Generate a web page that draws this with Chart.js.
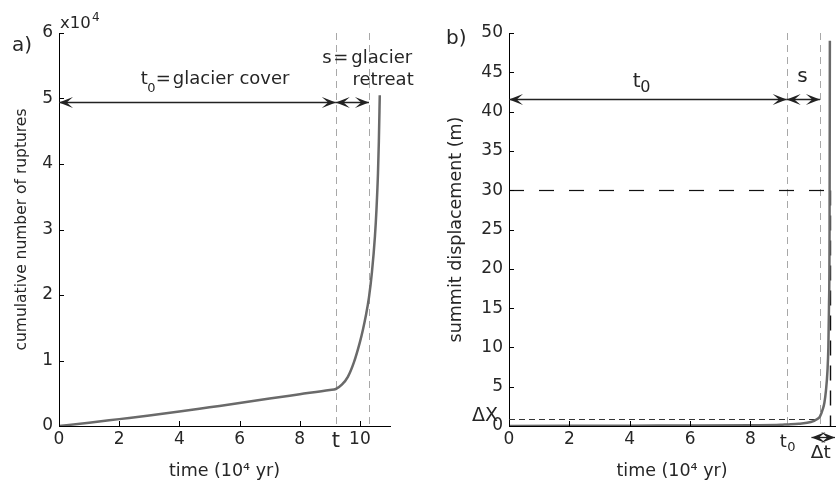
<!DOCTYPE html>
<html><head><meta charset="utf-8">
<script src="https://cdn.jsdelivr.net/npm/chart.js@4.4.0/dist/chart.umd.min.js"></script>
<style>
html,body{margin:0;padding:0;background:#fff;overflow:hidden}
#wrap{position:relative;width:837px;height:485px;background:#fff}
#ca{position:absolute;left:0;top:0}
#cb{position:absolute;left:418px;top:0}
</style></head><body>
<div id="wrap"><canvas id="ca" width="418" height="485"></canvas><canvas id="cb" width="419" height="485"></canvas></div>
<script>
// ---- Panel a) data ----
const timeA = [0, 1, 2, 3, 4, 5, 6, 7, 8, 9, 9.2, 9.4, 9.6, 9.8, 10.0, 10.1, 10.2, 10.3, 10.4, 10.5, 10.55, 10.6, 10.63, 10.66];
const rupturesA = [0, 500, 1050, 1600, 2200, 2850, 3500, 4200, 4850, 5500, 5650, 6300, 7500, 9700, 12800, 14700, 16900, 19600, 23500, 29000, 33000, 38500, 43500, 50500];
const xTicksA = [0, 2, 4, 6, 8, 9.2, 10];
const xTickLabelsA = ['0', '2', '4', '6', '8', 't', '10'];
const yTicksA = [0, 1, 2, 3, 4, 5, 6]; // x 10^4
const markersA = [9.2, 10.3]; // t0 end, s end

// ---- Panel b) data ----
const timeB = [0, 2, 4, 6, 8, 9, 9.2, 9.6, 10.0, 10.2, 10.3, 10.4, 10.45, 10.5, 10.55, 10.58, 10.6, 10.62, 10.63];
const displacementB = [0, 0.02, 0.04, 0.06, 0.1, 0.15, 0.2, 0.3, 0.5, 0.85, 1.2, 2.2, 3.0, 4.5, 7, 10, 15, 25, 49];
const xTicksB = [0, 2, 4, 6, 8, 9.2];
const xTickLabelsB = ['0', '2', '4', '6', '8', ''];
const yTicksB = [0, 5, 10, 15, 20, 25, 30, 35, 40, 45, 50];
const markersB = [9.2, 10.3];
const deltaX = 0.85, levelB = 30, endB = 10.63;

const FONT = "'DejaVu Sans', sans-serif";
const TXT = '#262626';
const CURVE = '#6a6a6a';

function txt(ctx, s, x, y, size, align) {
  ctx.font = size + 'px ' + FONT; ctx.textAlign = align || 'left';
  ctx.textBaseline = 'alphabetic'; ctx.fillStyle = TXT; ctx.fillText(s, x, y);
}
function head(ctx, x, y, dir) {
  const L = 14, W = 5.5;
  ctx.beginPath(); ctx.moveTo(x, y); ctx.lineTo(x - dir * L, y - W);
  ctx.lineTo(x - dir * L * 0.55, y); ctx.lineTo(x - dir * L, y + W); ctx.closePath(); ctx.fill();
}
function arrow(ctx, x1, x2, y) {
  ctx.save(); ctx.strokeStyle = '#222'; ctx.fillStyle = '#222'; ctx.lineWidth = 1.3;
  ctx.beginPath(); ctx.moveTo(x1, y); ctx.lineTo(x2, y); ctx.stroke();
  head(ctx, x1, y, -1); head(ctx, x2, y, 1); ctx.restore();
}
function line(ctx, x1, y1, x2, y2, color, dash, w) {
  ctx.save(); ctx.strokeStyle = color; ctx.lineWidth = w || 1; ctx.setLineDash(dash || []);
  ctx.beginPath(); ctx.moveTo(x1, y1); ctx.lineTo(x2, y2); ctx.stroke(); ctx.restore();
}
function innerTicks(chart, xt, yt) {
  const {ctx, chartArea: a, scales: {x, y}} = chart;
  ctx.save(); ctx.strokeStyle = '#000'; ctx.lineWidth = 1; ctx.beginPath();
  xt.forEach(v => { const p = Math.round(x.getPixelForValue(v)) + 0.5; ctx.moveTo(p, a.bottom); ctx.lineTo(p, a.bottom - 5); });
  yt.forEach(v => { const p = Math.round(y.getPixelForValue(v)) + 0.5; ctx.moveTo(a.left, p); ctx.lineTo(a.left + 5, p); });
  ctx.stroke(); ctx.restore();
}
function pts(xs, ys) { return xs.map((v, i) => ({x: v, y: ys[i]})); }

function baseScales(o) {
  return {
    x: {
      type: 'linear', min: 0, max: o.xmax,
      afterBuildTicks: s => { s.ticks = o.xt.map(v => ({value: v})); },
      ticks: {
        callback: (v, i) => o.xl[i], autoSkip: false, maxRotation: 0, color: TXT, padding: 3,
        font: c => ({family: FONT, size: (c.tick && c.tick.value === 9.2) ? o.tSize : 17})
      },
      grid: {display: false, drawTicks: false},
      border: {display: true, color: '#000', width: 1},
      title: {display: true, text: 'time (10\u2074 yr)', color: TXT, font: {family: FONT, size: 17.5}, padding: {top: 0, bottom: 3}},
      afterFit: s => { s.height = 59; }
    },
    y: {
      type: 'linear', min: 0, max: o.ymax,
      afterBuildTicks: s => { s.ticks = o.yt.map(v => ({value: v * o.ymul})); },
      ticks: {callback: (v, i) => String(o.yt[i]), autoSkip: false, color: TXT, padding: 6, font: {family: FONT, size: 17}},
      grid: {display: false, drawTicks: false},
      border: {display: true, color: '#000', width: 1},
      title: {display: true, text: o.ytitle, color: TXT, font: {family: FONT, size: o.ytsize}, padding: {top: o.ytpad}},
      afterFit: s => { s.width = o.yw; }
    }
  };
}

const plugA = {
  id: 'annA',
  beforeDatasetsDraw(chart) {
    const {ctx, chartArea: a, scales: {x}} = chart;
    markersA.forEach(m => { const p = Math.round(x.getPixelForValue(m)) + 0.5; line(ctx, p, a.top, p, a.bottom, '#a8a8a8', [7, 5], 1); });
  },
  afterDraw(chart) {
    const {ctx, chartArea: a, scales: {x, y}} = chart;
    innerTicks(chart, [0, 2, 4, 6, 8, 10], [1, 2, 3, 4, 5, 6].map(v => v * 1e4));
    const ay = Math.round(y.getPixelForValue(49500)) + 0.5;
    arrow(ctx, x.getPixelForValue(0), x.getPixelForValue(markersA[0]), ay);
    arrow(ctx, x.getPixelForValue(markersA[0]), x.getPixelForValue(markersA[1]), ay);
    // t0 = glacier cover
    const bl = y.getPixelForValue(52200);
    const tx = x.getPixelForValue(2.72);
    txt(ctx, 't', tx, bl, 18); txt(ctx, '0', tx + 6.5, bl + 8, 13);
    txt(ctx, '=', tx + 15, bl, 18); txt(ctx, 'glacier cover', tx + 32, bl, 18);
    // s = glacier retreat
    const sx = x.getPixelForValue(8.75);
    const bl2 = y.getPixelForValue(55400);
    txt(ctx, 's', sx, bl2, 18); txt(ctx, '=', sx + 11, bl2, 18); txt(ctx, 'glacier', sx + 29, bl2, 18);
    txt(ctx, 'retreat', x.getPixelForValue(9.75), y.getPixelForValue(52000), 18);
    // multiplier
    txt(ctx, 'x10', a.left + 1, a.top - 5, 16.5); txt(ctx, '4', a.left + 33, a.top - 12, 12);
    txt(ctx, 'a)', 12, 51, 20);
  }
};

const plugB = {
  id: 'annB',
  beforeDatasetsDraw(chart) {
    const {ctx, chartArea: a, scales: {x, y}} = chart;
    markersB.forEach(m => { const p = Math.round(x.getPixelForValue(m)) + 0.5; line(ctx, p, a.top, p, a.bottom, '#a8a8a8', [7, 5], 1); });
    const ly = Math.round(y.getPixelForValue(levelB)) + 0.5;
    const ex = Math.round(x.getPixelForValue(endB)) + 0.5;
    line(ctx, a.left, ly, ex, ly, '#111', [15, 15], 1.2);
    line(ctx, ex, ly, ex, a.bottom, '#111', [15, 10], 1.4);
    const dy = Math.round(y.getPixelForValue(deltaX)) + 0.5;
    line(ctx, a.left, dy, x.getPixelForValue(10.2), dy, '#333', [6, 4], 1);
  },
  afterDraw(chart) {
    const {ctx, chartArea: a, scales: {x, y}} = chart;
    innerTicks(chart, [0, 2, 4, 6, 8], [5, 10, 15, 20, 25, 30, 35, 40, 45, 50]);
    const ay = Math.round(y.getPixelForValue(41.6)) + 0.5;
    arrow(ctx, x.getPixelForValue(0), x.getPixelForValue(markersB[0]), ay);
    arrow(ctx, x.getPixelForValue(markersB[0]), x.getPixelForValue(markersB[1]), ay);
    const tx = x.getPixelForValue(4.1);
    txt(ctx, 't', tx, y.getPixelForValue(43.1), 20); txt(ctx, '0', tx + 7.5, y.getPixelForValue(42.5), 16);
    txt(ctx, 's', x.getPixelForValue(9.55), y.getPixelForValue(43.8), 20);
    // t0 tick label
    const t0x = x.getPixelForValue(markersB[0]);
    txt(ctx, 't', t0x - 7, a.bottom + 21, 18); txt(ctx, '0', t0x + 0.5, a.bottom + 25, 13);
    // delta X label
    txt(ctx, '\u0394X', a.left - 11, y.getPixelForValue(deltaX) + 1.5, 19, 'right');
    // delta t
    const dty = a.bottom + 11.5;
    arrow(ctx, x.getPixelForValue(10.02), x.getPixelForValue(10.8), dty);
    txt(ctx, '\u0394t', x.getPixelForValue(10.0), a.bottom + 32, 18.5);
    txt(ctx, 'b)', 28, 44, 20);
  }
};

new Chart(document.getElementById('ca'), {
  type: 'line',
  data: {datasets: [{data: pts(timeA, rupturesA), borderColor: CURVE, borderWidth: 2.5, pointRadius: 0, cubicInterpolationMode: 'monotone', fill: false}]},
  options: {
    responsive: false, animation: false, devicePixelRatio: 1,
    layout: {padding: {top: 33, right: 28, bottom: 0, left: 0}},
    plugins: {legend: {display: false}, tooltip: {enabled: false}},
    scales: baseScales({xmax: 11, xt: xTicksA, xl: xTickLabelsA, tSize: 21, yt: yTicksA, ymul: 1e4, ymax: 60000, ytitle: 'cumulative number of ruptures', ytsize: 15.5, ytpad: 12.5, yw: 59})
  },
  plugins: [plugA]
});

new Chart(document.getElementById('cb'), {
  type: 'line',
  data: {datasets: [{data: pts(timeB, displacementB), borderColor: CURVE, borderWidth: 2.5, pointRadius: 0, cubicInterpolationMode: 'monotone', fill: false}]},
  options: {
    responsive: false, animation: false, devicePixelRatio: 1,
    layout: {padding: {top: 33, right: 2, bottom: 0, left: 0}},
    plugins: {legend: {display: false}, tooltip: {enabled: false}},
    scales: baseScales({xmax: 10.8, xt: xTicksB, xl: xTickLabelsB, tSize: 17, yt: yTicksB, ymul: 1, ymax: 50, ytitle: 'summit displacement (m)', ytsize: 17.5, ytpad: 28, yw: 91})
  },
  plugins: [plugB]
});
</script>
</body></html>
